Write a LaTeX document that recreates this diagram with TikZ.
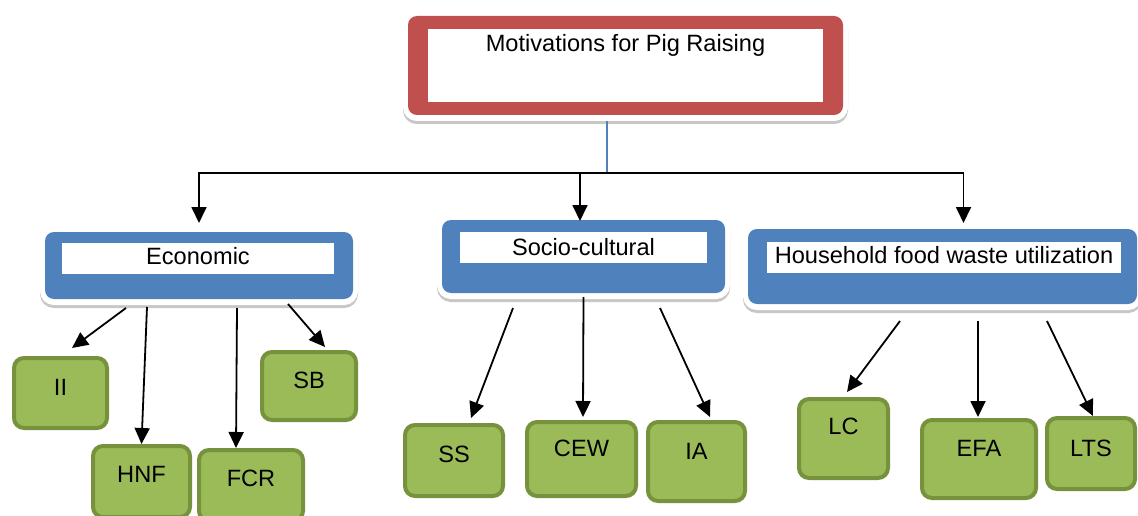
\documentclass[tikz,border=0pt]{standalone}
\usepackage{fontspec}
\setmainfont{Liberation Sans}
\usetikzlibrary{arrows.meta}
\definecolor{framered}{HTML}{C0504D}
\definecolor{frameblue}{HTML}{4F81BD}
\definecolor{leafgreen}{HTML}{9BBB59}
\definecolor{leafedge}{HTML}{76923C}

\begin{document}
\begin{tikzpicture}[x=1pt, y=-1pt,
				every node/.append style={font=\fontsize{23.6}{28}\selectfont},
				topbox/.style={fill=#1, rounded corners=9pt, inner sep=0pt, outer sep=0pt,
					preaction={draw=black!22, line width=10pt, transform canvas={yshift=-4pt}},
					preaction={draw=white, line width=10pt, transform canvas={yshift=-1pt}}},
				labelbox/.style={fill=white, inner sep=0pt, text height=17pt, text depth=#1},
				leaf/.style={fill=leafgreen, draw=leafedge, line width=4pt, rounded corners=10pt,
					inner sep=0pt, text height=17pt, text depth=#1},
				arr/.style={-{Triangle[length=16pt,width=15pt]}, line width=1.8pt, black}]
				\useasboundingbox (0,0) rectangle (1138,516);
				{
					\node (title) [topbox=framered, minimum width=435pt, minimum height=99pt] at (625.5,65.5) {};
					\node (titleT) [labelbox=45pt, minimum width=395pt, minimum height=73pt] at (625.5,65.5) {Motivations for Pig Raising};
					\node (eco) [topbox=frameblue, minimum width=308pt, minimum height=67pt] at (199,265.5) {};
					\node (ecoT) [labelbox=5pt, minimum width=272pt, minimum height=31pt] at (198,258.5) {Economic};
					\node (soc) [topbox=frameblue, minimum width=283pt, minimum height=73pt] at (583.5,256.5) {};
					\node (socT) [labelbox=1pt, minimum width=247pt, minimum height=31pt] at (583.5,247.5) {Socio-cultural};
					\node (hfw) [topbox=frameblue, minimum width=389pt, minimum height=75pt] at (942.5,266.5) {};
					\node (hfwT) [labelbox=5pt, minimum width=354pt, minimum height=31pt] at (944,257.5) {Household food waste utilization};
				}
				\node (ii) [leaf=12pt, minimum width=93pt, minimum height=70pt] at (60.5,393) {II};
				\node (hnf) [leaf=16pt, minimum width=97pt, minimum height=71pt] at (141.5,481.5) {HNF};
				\node (fcr) [leaf=16pt, minimum width=104pt, minimum height=71pt] at (251,485.5) {FCR};
				\node (sb) [leaf=12pt, minimum width=94pt, minimum height=68pt] at (309,386) {SB};
				\node (ss) [leaf=14pt, minimum width=98pt, minimum height=71pt] at (454,460.5) {SS};
				\node (cew) [leaf=22pt, minimum width=109pt, minimum height=74pt] at (581.5,459) {CEW};
				\node (ia) [leaf=22pt, minimum width=97pt, minimum height=79pt] at (696.5,461.5) {IA};
				\node (lc) [leaf=26pt, minimum width=89pt, minimum height=79pt] at (843.5,438.5) {LC};
				\node (efa) [leaf=22pt, minimum width=114pt, minimum height=78pt] at (979,459) {EFA};
				\node (lts) [leaf=12pt, minimum width=88pt, minimum height=71pt] at (1091,453.5) {LTS};

				\coordinate (bus) at (607,173);
				\draw [frameblue, line width=1.2pt] ([xshift=-18.5pt,yshift=-6pt]title.south) -- (bus);
				\draw [arr] (bus) -| ([yshift=9pt]eco.north);
				\draw [arr] (bus) -| ([xshift=21pt,yshift=6pt]hfw.north);
				\draw [arr] ([xshift=-3.5pt]soc.north |- bus) -- ([xshift=-3.5pt,yshift=-1pt]soc.north);

				\draw [arr] ([xshift=-73pt,yshift=-9pt]eco.south) -- ([xshift=11.5pt,yshift=8pt]ii.north);
				\draw [arr] ([xshift=-52pt,yshift=-8pt]eco.south) -- (hnf.north);
				\draw [arr] ([xshift=38pt,yshift=-9pt]eco.south) -- ([xshift=-15pt]fcr.north);
				\draw [arr] ([xshift=89pt,yshift=-5pt]eco.south) -- ([xshift=16pt,yshift=3pt]sb.north);
				\draw [arr] ([xshift=-70.5pt,yshift=-15pt]soc.south) -- ([xshift=17pt,yshift=5pt]ss.north);
				\draw [arr] ([yshift=-4pt]soc.south) -- ([xshift=1.5pt,yshift=3pt]cew.north);
				\draw [arr] ([xshift=76.5pt,yshift=-15pt]soc.south) -- ([xshift=13.5pt,yshift=3pt]ia.north);
				\draw [arr] ([xshift=-42.5pt,yshift=-17pt]hfw.south) -- ([xshift=3.5pt,yshift=5pt]lc.north);
				\draw [arr] ([xshift=35.5pt,yshift=-17pt]hfw.south) -- ([xshift=-1pt,yshift=1pt]efa.north);
				\draw [arr] ([xshift=104.5pt,yshift=-17pt]hfw.south) -- ([xshift=2pt]lts.north);
\end{tikzpicture}
\end{document}
